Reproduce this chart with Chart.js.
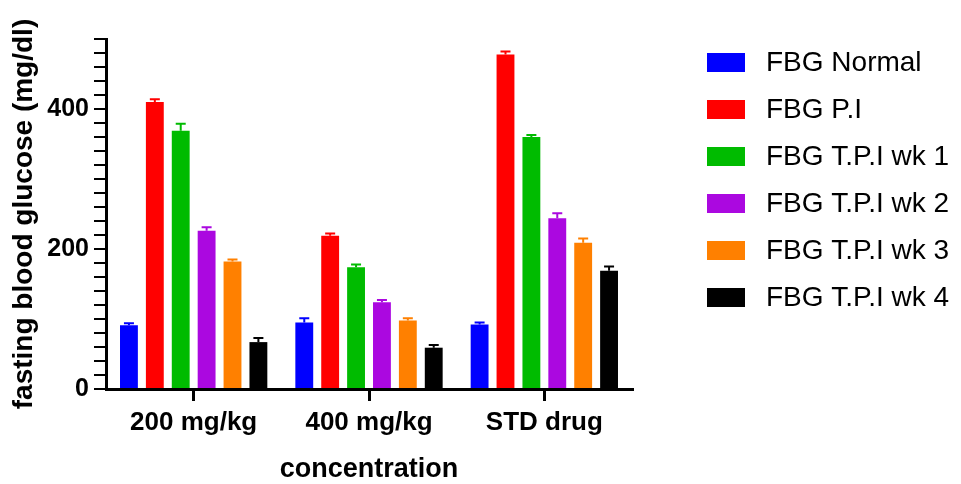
<!DOCTYPE html>
<html>
<head>
<meta charset="utf-8">
<script src="https://cdn.jsdelivr.net/npm/chart.js@4.4.1/dist/chart.umd.min.js"></script>
<style>
  html, body { margin: 0; padding: 0; background: #fff; }
  #wrap { width: 961px; height: 484px; }
</style>
</head>
<body>
<div id="wrap"><canvas id="chart"></canvas></div>
<script>
const categories = ['200 mg/kg', '400 mg/kg', 'STD drug'];
const seriesNames = ['FBG Normal', 'FBG P.I', 'FBG T.P.I wk 1', 'FBG T.P.I wk 2', 'FBG T.P.I wk 3', 'FBG T.P.I wk 4'];
const colors = ['#0000ff', '#ff0000', '#00bb00', '#ab08e0', '#ff8000', '#000000'];

// mean values per series, one per category
const fbgNormal = [91, 95, 92];
const fbgPI = [410, 219, 478];
const fbgWk1 = [369, 174, 360];
const fbgWk2 = [226, 124, 244];
const fbgWk3 = [182, 98, 209];
const fbgWk4 = [67, 59, 169];

// upper error (SEM) per series
const errNormal = [3, 6, 3];
const errPI = [4, 3, 4];
const errWk1 = [10, 4, 3];
const errWk2 = [5, 3, 7];
const errWk3 = [3, 3, 6];
const errWk4 = [6, 4, 6];

const yMax = 500;
const yStep = 20;
const yLabelStep = 200;

const allValues = [fbgNormal, fbgPI, fbgWk1, fbgWk2, fbgWk3, fbgWk4];
const allErrors = [errNormal, errPI, errWk1, errWk2, errWk3, errWk4];

const ctx = document.getElementById('chart').getContext('2d');
const FONT = "'Liberation Sans', Arial, sans-serif";

const errorBars = {
  id: 'errorBars',
  afterDatasetsDraw(chart) {
    const c = chart.ctx;
    const y = chart.scales.y;
    chart.data.datasets.forEach((ds, i) => {
      const meta = chart.getDatasetMeta(i);
      meta.data.forEach((bar, j) => {
        const top = y.getPixelForValue(ds.data[j] + ds.errors[j]);
        c.save();
        c.strokeStyle = ds.backgroundColor;
        c.lineWidth = 2;
        c.beginPath();
        c.moveTo(bar.x, bar.y);
        c.lineTo(bar.x, top);
        c.moveTo(bar.x - 5, top);
        c.lineTo(bar.x + 5, top);
        c.stroke();
        c.restore();
      });
    });
  }
};

// legend drawn by hand so the box/text gap matches the original
const sideLegend = {
  id: 'sideLegend',
  afterDraw(chart) {
    const c = chart.ctx;
    c.save();
    c.font = '28px ' + FONT;
    c.textBaseline = 'middle';
    chart.data.datasets.forEach((ds, i) => {
      const cy = 62.5 + i * 47;
      c.fillStyle = ds.backgroundColor;
      c.fillRect(707, cy - 9.5, 38, 19);
      c.fillStyle = '#000';
      c.fillText(ds.label, 766, cy + 0.5);
    });
    c.restore();
  }
};

const chart = new Chart(ctx, {
  type: 'bar',
  data: {
    labels: categories,
    datasets: seriesNames.map((name, i) => ({
      label: name,
      data: allValues[i],
      errors: allErrors[i],
      backgroundColor: colors[i],
      borderWidth: 0,
      categoryPercentage: 0.886,
      barPercentage: 0.69
    }))
  },
  options: {
    responsive: true,
    maintainAspectRatio: false,
    animation: false,
    layout: {
      padding: { top: 39, right: 329, left: 0, bottom: 0 }
    },
    scales: {
      x: {
        afterFit(scale) { scale.height = 95; },
        grid: {
          drawOnChartArea: false,
          offset: false,
          color: '#000',
          lineWidth: 3,
          tickLength: 12
        },
        border: { color: '#000', width: 3 },
        ticks: {
          color: '#000',
          padding: 6,
          font: { family: FONT, size: 26, weight: 'bold' }
        },
        title: {
          display: true,
          text: 'concentration',
          color: '#000',
          padding: { top: 0, bottom: -2 },
          font: { family: FONT, size: 27, weight: 'bold' }
        }
      },
      y: {
        min: 0,
        max: yMax,
        afterFit(scale) { scale.width = 106; },
        grid: {
          drawOnChartArea: false,
          color: '#000',
          lineWidth: 2,
          tickLength: 12
        },
        border: { color: '#000', width: 3 },
        ticks: {
          stepSize: yStep,
          autoSkip: false,
          color: '#000',
          padding: 5,
          font: { family: FONT, size: 25, weight: 'bold' },
          callback: v => (v % yLabelStep === 0 ? String(v) : '')
        },
        title: {
          display: true,
          text: 'fasting blood glucose (mg/dl)',
          color: '#000',
          padding: { top: 7, bottom: 0 },
          font: { family: FONT, size: 28, weight: 'bold' }
        }
      }
    },
    plugins: {
      legend: { display: false },
      tooltip: { enabled: false }
    }
  },
  plugins: [errorBars, sideLegend]
});
</script>
</body>
</html>
